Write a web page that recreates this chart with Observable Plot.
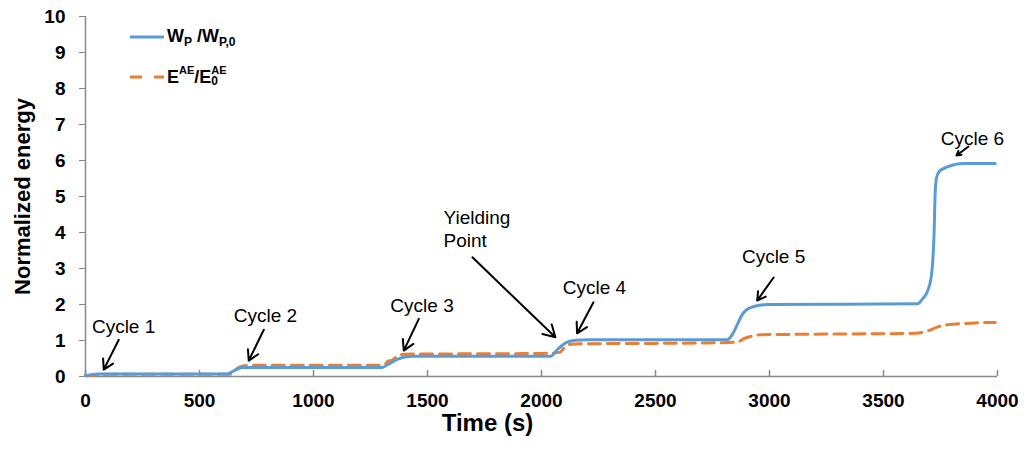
<!DOCTYPE html>
<html>
<head>
<meta charset="utf-8">
<script src="https://cdn.jsdelivr.net/npm/d3@7"></script>
<script src="https://cdn.jsdelivr.net/npm/@observablehq/plot@0.6"></script>
<style>
  body { margin: 0; background: #fff; font-family: "Liberation Sans", Arial, sans-serif; }
  #wrap { position: relative; width: 1024px; height: 452px; }
  #legend { position: absolute; left: 130px; top: 24px; font-weight: bold; font-size: 18px; color: #000; }
  #legend .row { display: flex; align-items: center; height: 26px; }
  #legend .row + .row { margin-top: 14px; }
  #legend svg { margin-right: 3px; }
  #legend sub { font-size: 12px; vertical-align: -4px; line-height: 1; }
  #legend .stack { display: inline-flex; flex-direction: column; font-size: 11px; line-height: 11px; vertical-align: middle; margin-top: -4px; }
  #legend .stack span:last-child { font-size: 12px; }
</style>
</head>
<body>
<div id="wrap">
  <div id="graph"></div>
  <div id="legend">
    <div class="row"><svg width="34" height="10"><line x1="0" y1="5" x2="34" y2="5" stroke="#5b9bd5" stroke-width="3"/></svg><span>W<sub>P</sub> /W<sub>P,0</sub></span></div>
    <div class="row"><svg width="34" height="10"><line x1="0" y1="5" x2="34" y2="5" stroke="#ed7d31" stroke-width="3" stroke-dasharray="12,12"/></svg><span>E<span class="stack"><span>AE</span><span>&nbsp;</span></span>/E<span class="stack"><span>AE</span><span>0</span></span></span></div>
  </div>
</div>
<script>
// W_P / W_P,0 (blue, solid)
const timeW = [0, 20, 50, 100, 620, 640, 670, 690, 720, 1300, 1330, 1370, 1400, 1440, 2040, 2070, 2110, 2150, 2200, 2815, 2840, 2860, 2880, 2895, 2920, 2950, 2990, 3650, 3670, 3691, 3709, 3716, 3722, 3726, 3732, 3745, 3780, 3850, 3990];
const valueW = [0.03, 0.04, 0.07, 0.07, 0.07, 0.12, 0.22, 0.25, 0.25, 0.25, 0.35, 0.48, 0.54, 0.56, 0.56, 0.75, 0.95, 1.01, 1.02, 1.02, 1.2, 1.46, 1.72, 1.83, 1.92, 1.97, 2.0, 2.02, 2.15, 2.34, 2.76, 3.2, 4.0, 5.0, 5.5, 5.7, 5.82, 5.92, 5.92];

// E_AE / E_0,AE (orange, dashed)
const timeE = [0, 50, 100, 640, 660, 690, 720, 1310, 1325, 1345, 1370, 1400, 2000, 2080, 2100, 2120, 2200, 2500, 2800, 2860, 2888, 2917, 2960, 3100, 3640, 3700, 3735, 3779, 3882, 3955, 3990];
const valueE = [0.02, 0.05, 0.06, 0.06, 0.2, 0.29, 0.31, 0.31, 0.42, 0.45, 0.58, 0.62, 0.64, 0.67, 0.8, 0.89, 0.91, 0.92, 0.94, 0.96, 1.05, 1.11, 1.16, 1.17, 1.2, 1.28, 1.37, 1.44, 1.48, 1.5, 1.5];

const xTicks = [0, 500, 1000, 1500, 2000, 2500, 3000, 3500, 4000];
const yTicks = [0, 1, 2, 3, 4, 5, 6, 7, 8, 9, 10];

// annotations
const annLabels = ["Cycle 1", "Cycle 2", "Cycle 3", "Cycle 4", "Cycle 5", "Cycle 6"];
const annX = [167, 789, 1476, 2232, 3018, 3890];
const annY = [1.39, 1.67, 1.97, 2.45, 3.33, 6.61];
const yieldLabel = "Yielding\nPoint";
const yieldX = 1570;
const yieldY = 4.125;

const arrowX1 = [146, 782, 1462, 1697, 2228, 3018, 3873];
const arrowY1 = [1.02, 1.30, 1.60, 3.31, 2.06, 2.75, 6.39];
const arrowX2 = [80, 716, 1396, 2061, 2156, 2946, 3820];
const arrowY2 = [0.19, 0.44, 0.72, 1.09, 1.20, 2.11, 6.14];

const dataW = timeW.map((t, i) => ({t, v: valueW[i]}));
const dataE = timeE.map((t, i) => ({t, v: valueE[i]}));
const anns = annLabels.map((label, i) => ({label, x: annX[i], y: annY[i]}));
const arrows = arrowX1.map((x1, i) => ({x1, y1: arrowY1[i], x2: arrowX2[i], y2: arrowY2[i]}));

const axisGray = "#898989";

const chart = Plot.plot({
  width: 1024,
  height: 452,
  marginLeft: 85,
  marginRight: 27,
  marginTop: 16,
  marginBottom: 76,
  style: {fontFamily: "'Liberation Sans', Arial, sans-serif", background: "#fff", color: "#000"},
  x: {domain: [0, 4000]},
  y: {domain: [0, 10]},
  marks: [
    Plot.axisY({
      ticks: yTicks, tickSize: 6, tickPadding: 14, stroke: axisGray,
      fontSize: 19, fontWeight: "bold", label: null
    }),
    Plot.axisX({
      ticks: xTicks, tickSize: 0, tickPadding: 17, tickFormat: d => String(d),
      fontSize: 19, fontWeight: "bold", label: null
    }),
    Plot.ruleX(xTicks, {x: d => d, y1: 0, y2: 0.17, stroke: axisGray, strokeWidth: 1.5}),
    Plot.ruleX([0], {stroke: axisGray, strokeWidth: 1.5}),
    Plot.ruleY([0], {stroke: axisGray, strokeWidth: 1.5}),
    Plot.line(dataE, {x: "t", y: "v", stroke: "#ed7d31", strokeWidth: 3, strokeDasharray: "12,7", curve: "monotone-x"}),
    Plot.line(dataW, {x: "t", y: "v", stroke: "#5b9bd5", strokeWidth: 3, curve: "monotone-x"}),
    Plot.text(anns, {x: "x", y: "y", text: "label", fontSize: 19, fill: "#000"}),
    Plot.text([yieldLabel], {x: yieldX, y: yieldY, text: d => d, textAnchor: "start", fontSize: 19, lineHeight: 1.2, fill: "#000"}),
    Plot.arrow(arrows, {x1: "x1", y1: "y1", x2: "x2", y2: "y2", stroke: "#000", strokeWidth: 2, headLength: 10, bend: 0}),
    Plot.text(["Time (s)"], {x: 1763, frameAnchor: "bottom", dy: 54, text: d => d, fontSize: 24, fontWeight: "bold", fill: "#000"}),
    Plot.text(["Normalized energy"], {frameAnchor: "left", dx: -63, rotate: -90, textAnchor: "middle", text: d => d, fontSize: 22, fontWeight: "bold", fill: "#000"})
  ]
});

d3.select("#graph").append(() => chart);
</script>
</body>
</html>
